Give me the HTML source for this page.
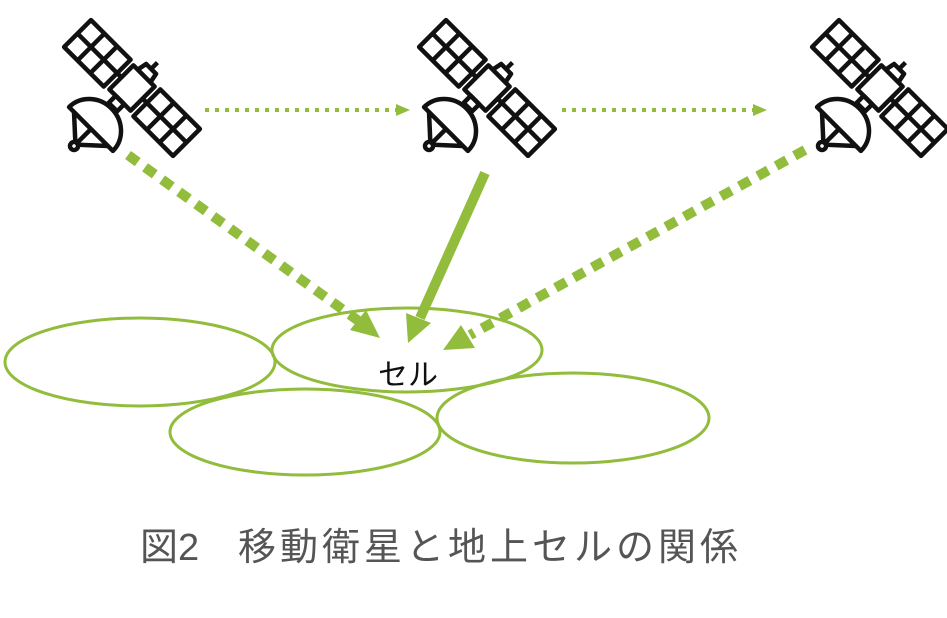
<!DOCTYPE html>
<html><head><meta charset="utf-8"><style>
html,body{margin:0;padding:0;background:#fff;}
svg{display:block}
</style></head><body>
<svg width="947" height="618" viewBox="0 0 947 618" xmlns="http://www.w3.org/2000/svg">
<defs>
<g id="sat" fill="none" stroke="#111" stroke-width="4.5" stroke-linejoin="round">
  <rect x="-77" y="-19" width="56" height="38"/>
  <line x1="-58" y1="-19" x2="-58" y2="19"/><line x1="-40" y1="-19" x2="-40" y2="19"/><line x1="-77" y1="0" x2="-21" y2="0"/>
  <rect x="21" y="-19" width="56" height="38"/>
  <line x1="40" y1="-19" x2="40" y2="19"/><line x1="58" y1="-19" x2="58" y2="19"/><line x1="21" y1="0" x2="77" y2="0"/>
  <line x1="-21" y1="0" x2="-15" y2="0"/><line x1="15" y1="0" x2="21" y2="0"/>
  <rect x="-15" y="-17" width="30" height="34"/>
  <path d="M-9,-17 L-7,-27 L7,-27 L9,-17"/><line x1="0" y1="-27" x2="0" y2="-36"/>
  <rect x="-6" y="17" width="12" height="10"/>
  <path d="M-31,58 A31 29 0 0 1 31,58 Z" fill="#fff"/>
  <path d="M-24,58 L0,80 L24,58 M0,58 L0,80"/>
  <circle cx="0" cy="82" r="4" fill="#fff"/>
</g>
</defs>
<use href="#sat" transform="translate(132,88) rotate(45)"/>
<use href="#sat" transform="translate(487,88) rotate(45)"/>
<use href="#sat" transform="translate(880,88) rotate(45)"/>

<g stroke="#92bc3c" fill="none">
<line x1="205" y1="110" x2="398" y2="110" stroke-width="4" stroke-dasharray="4 6"/>
<line x1="562" y1="110" x2="755" y2="110" stroke-width="4" stroke-dasharray="4 6"/>
<line x1="128" y1="155" x2="360" y2="322" stroke-width="10" stroke-dasharray="12 9"/>
<line x1="485" y1="173" x2="420" y2="318" stroke-width="10"/>
<line x1="805" y1="150" x2="470" y2="335" stroke-width="10" stroke-dasharray="12 9"/>
<ellipse cx="140" cy="362" rx="135" ry="44" stroke-width="3"/>
<ellipse cx="407" cy="350" rx="135" ry="42" stroke-width="3"/>
<ellipse cx="305" cy="432" rx="135" ry="43" stroke-width="3"/>
<ellipse cx="573" cy="418" rx="136" ry="45" stroke-width="3"/>
</g>
<g fill="#92bc3c">
<polygon points="410,110 396,104 396,116"/>
<polygon points="767,110 753,104 753,116"/>
<polygon points="380,338 350,330 366,310"/>
<polygon points="408,343 406,313 431,323"/>
<polygon points="443,350 461,325 475,348"/>
</g>
<text x="408" y="385" font-family="Liberation Sans, Noto Sans CJK JP, sans-serif" font-size="30" text-anchor="middle" fill="#111">セル</text>
<text x="140" y="560" font-family="Liberation Sans, Noto Sans CJK JP, sans-serif" font-size="38" fill="#555">図2</text>
<text x="238" y="560" font-family="Liberation Sans, Noto Sans CJK JP, sans-serif" font-size="38" letter-spacing="4" fill="#555">移動衛星と地上セルの関係</text>
</svg>
</body></html>
